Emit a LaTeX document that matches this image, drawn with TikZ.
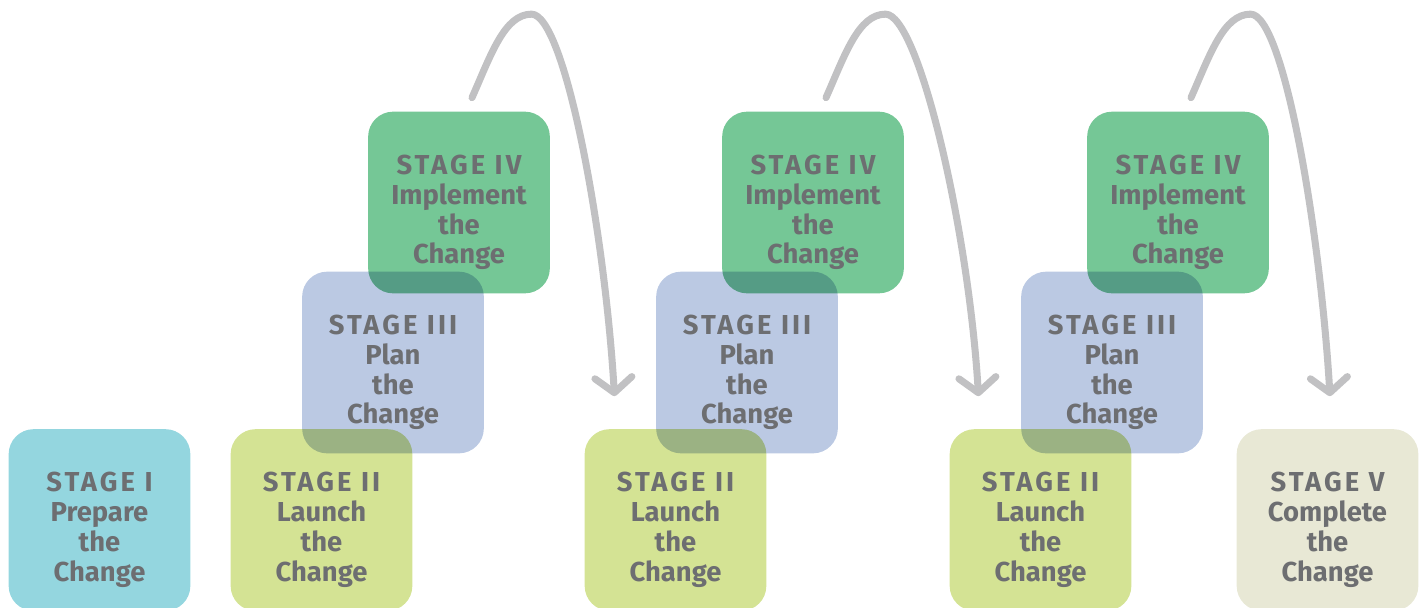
\documentclass[tikz,border=0pt]{standalone}
\usepackage{fontspec}
\setmainfont{Fira Sans}
\usetikzlibrary{arrows.meta,backgrounds}
\definecolor{textgray}{HTML}{6D6E71}
\definecolor{arrowgray}{HTML}{C1C1C3}
\definecolor{prepcol}{HTML}{94D6DF}
\definecolor{launchcol}{HTML}{D4E394}
\definecolor{plancol}{HTML}{BBC9E3}
\definecolor{implcol}{HTML}{75C796}
\definecolor{donecol}{HTML}{E8E8D5}
\newcommand{\stg}[1]{{\addfontfeature{LetterSpace=11}#1}}
\newcommand{\stagetext}[2]{\raisebox{-0.34cm}[0pt][0pt]{\begin{tabular}{@{}c@{}}\stg{#1}\\#2\\the\\Change\end{tabular}}}
\tikzset{
  stagebox/.style={minimum width=3.62cm, minimum height=3.62cm, inner sep=0pt,
    text=textgray, font=\bfseries\fontsize{15.6}{17}\selectfont},
  boxfill/.style={rounded corners=0.5cm, blend mode=multiply},
  looparrow/.style={draw=arrowgray, line width=4pt, line cap=round,
    -{Straight Barb[length=0.3cm, width=0.74cm, round]}}
}
\begin{document}
\begin{tikzpicture}
\useasboundingbox (0,0) rectangle (28.44,-12.14);
%\draw[step=1,gray!30](0,-12.14) grid (28.44,0);
\node[stagebox] (s1) at (1.99,-10.40) {\stagetext{STAGE I}{Prepare}};
\foreach \i/\x in {1/6.43, 2/13.51, 3/20.81}{
  \node[stagebox] (ii\i) at (\x,-10.40) {\stagetext{STAGE II}{Launch}};
  \node[stagebox] (iii\i) at (\x+1.43,-7.25) {\stagetext{STAGE III}{Plan}};
  \node[stagebox] (iv\i) at (\x+2.75,-4.05) {\stagetext{STAGE IV}{Implement}};
}
\node[stagebox] (s5) at (26.55,-10.40) {\stagetext{STAGE V}{Complete}};
% tinted boxes under the text
\begin{scope}[on background layer]
\foreach \n/\c in {s1/prepcol, ii1/launchcol, ii2/launchcol, ii3/launchcol, iii1/plancol, iii2/plancol, iii3/plancol,
    iv1/implcol, iv2/implcol, iv3/implcol, s5/donecol}
  \fill[boxfill, fill=\c] (\n.south west) rectangle (\n.north east);
\end{scope}
% where each loop lands
\coordinate (t1) at ([shift={(-1.22,0.66)}]ii2.north);
\coordinate (t2) at ([shift={(-1.24,0.66)}]ii3.north);
\coordinate (t3) at ([shift={(0.05,0.66)}]s5.north);
\foreach \i in {1,2,3}
  \draw[looparrow] ([shift={(0.26,0.28)}]iv\i.north) .. controls +(0.38,0.86) and +(-0.54,0) .. ([shift={(1.45,1.95)}]iv\i.north)
    .. controls +(0.66,0) and +(-0.2,3.34) .. (t\i);
\end{tikzpicture}
\end{document}
